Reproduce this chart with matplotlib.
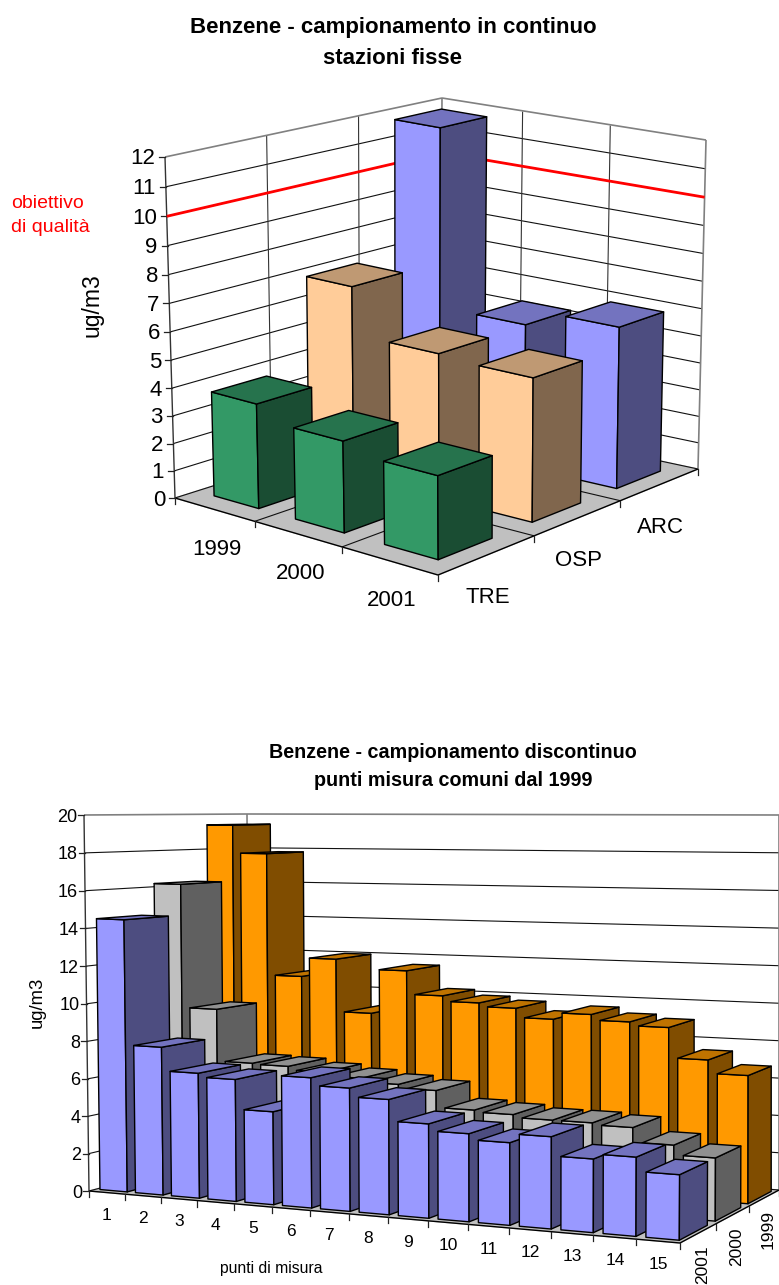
import numpy as np
import matplotlib
matplotlib.use("Agg")
import matplotlib.pyplot as plt
from matplotlib.patches import Polygon

plt.rcParams["font.family"] = ["Liberation Sans", "DejaVu Sans"]

# chart 1 data
years1 = ["1999", "2000", "2001"]
stations = ["TRE", "OSP", "ARC"]
tre = [3.8, 3.3, 2.97]
osp = [7.0, 5.3, 5.2]
arc = [11.85, 5.35, 5.95]
target = 10

# chart 2 data
points = [str(i) for i in range(1, 16)]
years2 = ["2001", "2000", "1999"]
v2001 = [14.5, 7.85, 6.6, 6.4, 4.85, 6.75, 6.35, 5.9, 4.8, 4.45, 4.15, 4.6, 3.65, 3.9, 3.2]
v2000 = [16.2, 9.4, 6.55, 6.5, 6.3, 6.1, 5.9, 5.7, 4.8, 4.7, 4.55, 4.55, 4.45, 3.7, 3.2]
v1999 = [19.4, 17.8, 10.9, 11.95, 9.0, 11.45, 10.15, 9.85, 9.65, 9.15, 9.5, 9.2, 9.0, 7.4, 6.7]

GREEN = ("#339966", "#1a4d33", "#26734d")
PEACH = ("#ffcc99", "#80664d", "#bf9973")
BLUE = ("#9999ff", "#4d4d80", "#7373bf")
ORANGE = ("#ff9900", "#804d00", "#bf7300")
GRAY = ("#c0c0c0", "#606060", "#909090")


def homography(src, dst):
    rows = []
    for (x, y), (a, b) in zip(src, dst):
        rows.append([x, y, 1, 0, 0, 0, -a * x, -a * y, -a])
        rows.append([0, 0, 0, x, y, 1, -b * x, -b * y, -b])
    return np.linalg.svd(np.array(rows, float))[2][-1].reshape(3, 3)


class Box:
    # 3d box on the page, a camera fitted to the floor corners and ceiling corners
    def __init__(self, ax, nu, nv, zmax, floor, top):
        self.ax, self.nu, self.nv, self.zmax = ax, nu, nv, zmax
        src = [(0, 0), (nu, 0), (nu, nv), (0, nv)]
        self.h = homography(src, floor)
        self.h = self.h / self.h[2, 2]
        rows, rhs = [], []
        for (x, y), (a, b) in zip(src, top):
            p = np.array([x, y, 1.0])
            rows.append([1, 0, -a])
            rhs.append(a * (self.h[2] @ p) - self.h[0] @ p)
            rows.append([0, 1, -b])
            rhs.append(b * (self.h[2] @ p) - self.h[1] @ p)
        self.c = np.linalg.lstsq(np.array(rows), np.array(rhs), rcond=None)[0]
        # what the camera misses at the ceiling corners, spread over the box
        self.res = [np.array(t) - self.cam(x, y, zmax) for (x, y), t in zip(src, top)]

    def cam(self, u, v, z):
        p = np.array([u, v, 1.0])
        q = self.h @ p + z / self.zmax * self.c
        return q[:2] / q[2]

    def pt(self, u, v, z):
        s, t = u / self.nu, v / self.nv
        r = (self.res[0] * (1 - s) * (1 - t) + self.res[1] * s * (1 - t)
             + self.res[2] * s * t + self.res[3] * (1 - s) * t)
        return self.cam(u, v, z) + r * z / self.zmax

    def line(self, p, q, **kw):
        a, b = self.pt(*p), self.pt(*q)
        self.ax.plot([a[0], b[0]], [a[1], b[1]], solid_capstyle="butt", **kw)

    def face(self, pts, color, edge=None, lw=1.0, zorder=2):
        xy = [self.pt(*p) for p in pts]
        self.ax.add_patch(Polygon(xy, closed=True, facecolor=color,
                                  edgecolor=edge or color, linewidth=lw,
                                  joinstyle="round", zorder=zorder))

    def walls(self, zticks, grid_u=(), grid_v=()):
        nu, nv, zm = self.nu, self.nv, self.zmax
        self.face([(0, 0, 0), (nu, 0, 0), (nu, nv, 0), (0, nv, 0)], "#c0c0c0", zorder=1)
        for z in zticks[:-1]:
            self.line((0, 0, z), (0, nv, z), color="#111111", lw=0.8, zorder=1.5)
            self.line((0, nv, z), (nu, nv, z), color="#111111", lw=0.8, zorder=1.5)
        for v in grid_v:
            self.line((0, v, 0), (0, v, zm), color="#333333", lw=0.8, zorder=1.5)
            self.line((0, v, 0), (nu, v, 0), color="#111111", lw=0.8, zorder=1.5)
        for u in grid_u:
            self.line((u, nv, 0), (u, nv, zm), color="#333333", lw=0.8, zorder=1.5)
            self.line((u, 0, 0), (u, nv, 0), color="#111111", lw=0.8, zorder=1.5)
        grey = dict(color="#808080", lw=1.2, zorder=1.6)
        self.line((0, 0, zm), (0, nv, zm), **grey)
        self.line((0, nv, zm), (nu, nv, zm), **grey)
        self.line((nu, nv, 0), (nu, nv, zm), **grey)
        self.line((0, nv, 0), (0, nv, zm), **grey)
        # floor front edges and axis
        self.line((0, 0, 0), (nu, 0, 0), color="black", lw=1.0, zorder=1.7)
        self.line((nu, 0, 0), (nu, nv, 0), color="black", lw=1.0, zorder=1.7)
        self.line((0, 0, 0), (0, 0, zm), color="#333333", lw=1.0, zorder=1.7)

    def bar(self, i, j, val, col, gap, order):
        a, b = i + gap, i + 1 - gap
        c, d = j + gap, j + 1 - gap
        self.face([(a, c, 0), (b, c, 0), (b, c, val), (a, c, val)], col[0], "black", zorder=order)
        self.face([(b, c, 0), (b, d, 0), (b, d, val), (b, c, val)], col[1], "black", zorder=order)
        self.face([(a, c, val), (b, c, val), (b, d, val), (a, d, val)], col[2], "black", zorder=order)

    def ticks(self, zticks, zsize, zoff, ulabels, vlabels, usize, uoff, voff, vrot=0, tlen=6):
        for z in zticks:
            p = self.pt(0, 0, z)
            self.ax.plot([p[0] - tlen, p[0]], [p[1], p[1]], color="#222222", lw=0.9, zorder=1.7)
            self.ax.text(p[0] - zoff, p[1] + 2, str(z), ha="right", va="center", fontsize=zsize)
        for i in range(self.nu + 1):
            p = self.pt(i, 0, 0)
            self.ax.plot([p[0], p[0]], [p[1], p[1] + tlen], color="#222222", lw=0.9, zorder=1.7)
        for j in range(1, self.nv + 1):
            p = self.pt(self.nu, j, 0)
            self.ax.plot([p[0], p[0]], [p[1], p[1] + tlen], color="#222222", lw=0.9, zorder=1.7)
        for i, s in enumerate(ulabels):
            p = self.pt(i + 0.5, 0, 0)
            self.ax.text(p[0] + uoff[0], p[1] + uoff[1], s, ha="center", va="center", fontsize=usize)
        for j, s in enumerate(vlabels):
            p = self.pt(self.nu, j + 0.5, 0)
            self.ax.text(p[0] + voff[0], p[1] + voff[1], s, ha="center", va="center",
                         fontsize=usize, rotation=vrot)


fig = plt.figure(figsize=(7.79, 12.85), dpi=100)
ax = fig.add_axes([0, 0, 1, 1])
ax.set_xlim(0, 779)
ax.set_ylim(1285, 0)
ax.axis("off")

# top chart
box1 = Box(ax, 3, 3, 12,
           [(175, 498), (438, 575), (698, 469), (440, 414)],
           [(165, 157), (436, 214), (706, 140), (442, 98)])
box1.walls(list(range(13)), grid_u=[1, 2], grid_v=[1, 2])
box1.line((0, 0, target), (0, 3, target), color="red", lw=2, zorder=1.8)
box1.line((0, 3, target), (3, 3, target), color="red", lw=2, zorder=1.8)
order = 3
for j, (vals, col) in reversed(list(enumerate([(tre, GREEN), (osp, PEACH), (arc, BLUE)]))):
    for i, val in enumerate(vals):
        box1.bar(i, j, val, col, 0.22, order)
        order += 1
box1.ticks(list(range(13)), 16, 10, years1, stations, 16, (3, 40), (0, 43))

ax.text(393, 28, "Benzene - campionamento in continuo", ha="center", va="center",
        fontsize=16, fontweight="bold")
ax.text(393, 58, "stazioni fisse", ha="center", va="center", fontsize=16, fontweight="bold")
ax.text(92, 305, "ug/m3", rotation=90, ha="center", va="center", fontsize=16.5)
ax.text(11, 204, "obiettivo", color="red", ha="left", va="center", fontsize=14)
ax.text(11, 228, "di qualità", color="red", ha="left", va="center", fontsize=14)

# bottom chart
box2 = Box(ax, 15, 3, 20,
           [(89, 1191), (680, 1243), (779, 1190), (249, 1149)],
           [(84, 815), (682, 828), (779, 815), (247, 814)])
box2.walls(list(range(0, 21, 2)))
order = 100
for j, (vals, col) in reversed(list(enumerate([(v2001, BLUE), (v2000, GRAY), (v1999, ORANGE)]))):
    for i, val in enumerate(vals):
        box2.bar(i, j, val, col, 0.115, order)
        order += 1
box2.ticks(list(range(0, 21, 2)), 13, 7, points, years2, 12.5, (0, 23), (4, 32), vrot=90)

ax.text(453, 752, "Benzene - campionamento discontinuo", ha="center", va="center",
        fontsize=14.2, fontweight="bold")
ax.text(453, 780, "punti misura comuni dal 1999", ha="center", va="center",
        fontsize=14.2, fontweight="bold")
ax.text(37, 1002, "ug/m3", rotation=90, ha="center", va="center", fontsize=13.3)
ax.text(271, 1269, "punti di misura", ha="center", va="center", fontsize=11.3)

fig.savefig("out.png", dpi=100)
